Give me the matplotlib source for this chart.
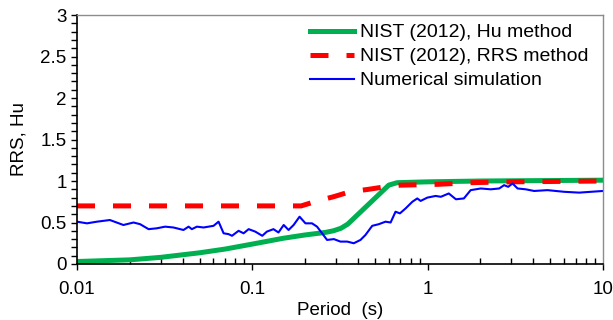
import numpy as np
import matplotlib.pyplot as plt
from matplotlib.ticker import FixedLocator, NullFormatter, MultipleLocator

plt.rcParams['font.family'] = ['Liberation Sans', 'DejaVu Sans']

# NIST (2012), Hu method
hu_T = [0.01, 0.02, 0.03, 0.05, 0.07, 0.1, 0.15, 0.2, 0.26, 0.29, 0.32, 0.35, 0.6, 0.67, 1.0, 2.0, 10.0]
hu_v = [0.03, 0.05, 0.08, 0.135, 0.18, 0.24, 0.31, 0.35, 0.38, 0.40, 0.43, 0.48, 0.95, 0.98, 0.99, 1.0, 1.01]

# NIST (2012), RRS method
rrs_T = [0.01, 0.19, 0.235, 0.29, 0.36, 0.46, 0.57, 0.70, 1.14, 1.76, 3.0, 10.0]
rrs_v = [0.70, 0.70, 0.76, 0.81, 0.87, 0.90, 0.93, 0.95, 0.96, 0.98, 0.99, 1.0]

# numerical simulation
sim_T = [0.01, 0.0114, 0.013, 0.0154, 0.0184, 0.021, 0.0229, 0.0256, 0.0285, 0.0318,
         0.0355, 0.0405, 0.0433, 0.0452, 0.0483, 0.0527, 0.0601, 0.0642, 0.0686, 0.0732,
         0.0766, 0.0835, 0.0892, 0.0953, 0.104, 0.114, 0.121, 0.132, 0.141, 0.151,
         0.161, 0.172, 0.186, 0.201, 0.219, 0.234, 0.250, 0.267, 0.292, 0.318,
         0.348, 0.379, 0.414, 0.442, 0.483, 0.527, 0.575, 0.615, 0.656, 0.695,
         0.749, 0.818, 0.873, 0.912, 0.996, 1.11, 1.19, 1.32, 1.45, 1.61,
         1.76, 2.01, 2.29, 2.56, 2.73, 2.88, 3.05, 3.26, 3.63, 4.05,
         4.83, 6.01, 7.32, 8.54, 10.0]
sim_v = [0.51, 0.49, 0.51, 0.53, 0.47, 0.50, 0.48, 0.42, 0.43, 0.45,
         0.44, 0.41, 0.45, 0.42, 0.45, 0.44, 0.46, 0.51, 0.37, 0.36,
         0.34, 0.40, 0.37, 0.42, 0.39, 0.34, 0.39, 0.42, 0.38, 0.47,
         0.41, 0.47, 0.57, 0.49, 0.49, 0.45, 0.37, 0.29, 0.30, 0.27,
         0.27, 0.25, 0.29, 0.35, 0.46, 0.48, 0.51, 0.50, 0.63, 0.61,
         0.67, 0.75, 0.79, 0.76, 0.80, 0.82, 0.81, 0.85, 0.78, 0.79,
         0.89, 0.91, 0.90, 0.91, 0.95, 0.93, 0.97, 0.91, 0.90, 0.88,
         0.89, 0.87, 0.86, 0.87, 0.88]

fig = plt.figure(figsize=(6.13, 3.2), dpi=100)
ax = fig.add_axes([0.1256, 0.175, 0.858, 0.778])

ax.plot(hu_T, hu_v, color='#00b050', lw=3.6, solid_joinstyle='round', label='NIST (2012), Hu method')
ax.plot(rrs_T, rrs_v, color='#ff0000', lw=3.6, ls=(0, (3.6, 3.6)), label='NIST (2012), RRS method')
ax.plot(sim_T, sim_v, color='#0000ff', lw=1.5, solid_joinstyle='round', label='Numerical simulation')

ax.set_xscale('log')
ax.set_xlim(0.01, 10)
ax.set_ylim(0, 3)
ax.set_xticks([0.01, 0.1, 1, 10])
ax.set_xticklabels(['0.01', '0.1', '1', '10'])
ax.xaxis.set_minor_locator(FixedLocator([m * d for d in (0.01, 0.1, 1) for m in range(2, 10)]))
ax.xaxis.set_minor_formatter(NullFormatter())
ax.set_yticks([0, 0.5, 1, 1.5, 2, 2.5, 3])
ax.set_yticklabels(['0', '0.5', '1', '1.5', '2', '2.5', '3'])
ax.yaxis.set_minor_locator(MultipleLocator(0.1))

ax.tick_params(axis='x', which='major', direction='out', length=4, width=1, labelsize=13.5, pad=8)
ax.tick_params(axis='x', which='minor', direction='in', length=4, width=1)
ax.tick_params(axis='y', which='both', direction='out', length=4, width=1, labelsize=13.5)

for s in ('left', 'bottom'):
    ax.spines[s].set_color('black')
    ax.spines[s].set_linewidth(1.2)
for s in ('top', 'right'):
    ax.spines[s].set_color('#8c8c8c')
    ax.spines[s].set_linewidth(1.0)

ax.set_xlabel('Period  (s)', fontsize=13.5, labelpad=3)
ax.set_ylabel('RRS, Hu', fontsize=13.5, labelpad=9)

ax.legend(loc='upper right', bbox_to_anchor=(0.995, 1.012), frameon=False, fontsize=14,
          handlelength=2.3, handletextpad=0.3, labelspacing=0.33, borderaxespad=0.2)

fig.savefig('out.png', dpi=100)
